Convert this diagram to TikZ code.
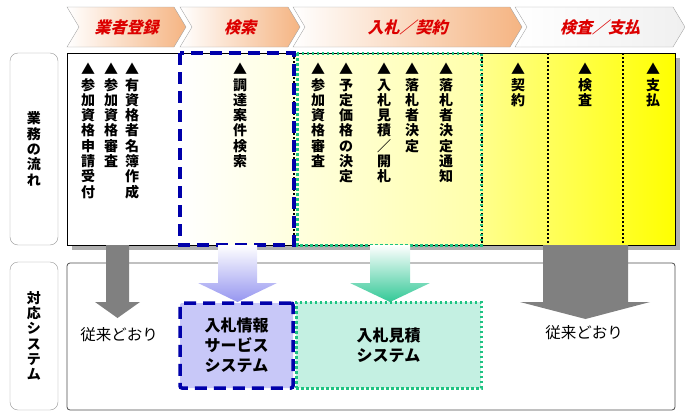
\documentclass[tikz,border=0pt]{standalone}
\usepackage{fontspec}
\setmainfont{Noto Sans CJK JP}
\newfontfamily\jpslant{Noto Sans CJK JP}[FakeSlant=0.25]

\definecolor{peach}{RGB}{245,180,130}
\definecolor{chevline}{RGB}{165,165,165}
\definecolor{phasered}{RGB}{220,0,0}
\definecolor{paleyellow}{RGB}{255,255,170}
\definecolor{midyellow}{RGB}{255,255,140}
\definecolor{dashblue}{RGB}{0,0,170}
\definecolor{dotteal}{RGB}{30,195,130}
\definecolor{lavender}{RGB}{200,200,248}
\definecolor{mint}{RGB}{196,240,226}
\definecolor{arrowgray}{RGB}{128,128,128}
\definecolor{shadowgray}{RGB}{175,175,175}
\definecolor{bluearrow}{RGB}{150,150,240}
\definecolor{tealarrow}{RGB}{50,200,150}
\definecolor{labelline}{RGB}{150,150,150}

% vertical (top to bottom) text, one character per line
\newcommand\tate[1]{\vbox{\baselineskip=15.3pt\lineskiplimit=-20pt\expandafter\tateloop#1\relax}}
\def\tateloop#1{\ifx\relax#1\else\hbox to 1em{\hss#1\hss}\expandafter\tateloop\fi}

\begin{document}
\begin{tikzpicture}[x=1pt, y=-1pt,
    phase/.style={font=\jpslant\bfseries\fontsize{16}{16}\selectfont, text=phasered},
    task/.style={anchor=north, inner sep=0pt, font=\bfseries\fontsize{14}{15}\selectfont},
    sidelabel/.style={draw=labelline, fill=white, rounded corners=8pt, minimum width=48pt,
        inner sep=0pt, font=\bfseries\fontsize{14}{15}\selectfont},
    sysbox/.style={align=center, inner sep=0pt, font=\bfseries\fontsize{16}{20}\selectfont},
    asis/.style={font=\fontsize{15.5}{16}\selectfont}]
    \useasboundingbox (0,0) rectangle (685,415);

    % phases
    \foreach \l/\r/\txt/\col [count=\i] in {67/174/業者登録/peach, 180/288/検索/peach,
            293/510/入札／契約/peach, 515/673/検査／支払/gray!12}{
        \path[draw=chevline, left color=white, right color=\col]
            (\l,7) -- (\r,7) -- (\r+12,27) -- (\r,47) -- (\l,47) -- (\l+12,27) -- cycle;
        \node[phase] (phase\i) at ({(\l+\r+12)/2},27) {\txt};
    }

    \node[sidelabel, minimum height=192pt] (flowlabel) at (34,149) {\tate{業務の流れ}};
    \node[sidelabel, minimum height=148pt] (syslabel) at (34,336) {\tate{対応システム}};

    % business flow
    \fill[shadowgray] (72,58) rectangle (680,250);
    \fill[white] (67,53) rectangle (180,245);
    \shade[left color=white, right color=paleyellow] (180,53) rectangle (482,245);
    \shade[left color=midyellow, right color=yellow] (482,53) rectangle (675,245);
    \draw[black, line width=0.8pt] (67,53) rectangle (675,245);
    \foreach \x in {294,482,548,623}
        \draw[black, line width=1.8pt, dash pattern=on 2pt off 2pt] (\x,53) -- (\x,245);
    \draw[dashblue, line width=3.5pt, dash pattern=on 12pt off 7pt] (180,53) rectangle (294,245);
    \draw[dotteal, line width=3pt, dash pattern=on 2.5pt off 2.5pt] (297,53) rectangle (481,245);

    \foreach \x/\txt [count=\i] in {88/▲参加資格申請受付, 111/▲参加資格審査, 132/▲有資格者名簿作成,
            240/▲調達案件検索, 318/▲参加資格審査, 346/▲予定価格の決定, 384/▲入札見積／開札,
            412/▲落札者決定, 446/▲落札者決定通知, 518/▲契約, 585/▲検査, 653/▲支払}
        \node[task] (task\i) at (\x,63) {\tate{\txt}};

    % systems
    \node[draw=gray!60!black, line width=0.8pt, rounded corners=3pt, minimum width=608pt,
        minimum height=147pt] (sysarea) at (371,336.5) {};

    \fill[arrowgray] (106,245) -- (129,245) -- (129,302) -- (140,302) -- (117.5,318)
        -- (95,302) -- (106,302) -- cycle;
    \shade[top color=white, bottom color=bluearrow] (218,245) -- (257,245) -- (257,283)
        -- (277,283) -- (237.5,302) -- (198,283) -- (218,283) -- cycle;
    \shade[top color=white, bottom color=tealarrow] (370,245) -- (410,245) -- (410,283)
        -- (430,283) -- (390,302) -- (350,283) -- (370,283) -- cycle;
    \fill[arrowgray] (543,245) -- (628,245) -- (628,302) -- (650,302) -- (585.5,319)
        -- (520,302) -- (543,302) -- cycle;

    \node[sysbox, draw=dashblue, fill=lavender, line width=3.5pt, dash pattern=on 12pt off 7pt,
        rounded corners=2pt, minimum width=113pt, minimum height=85pt] (infosvc)
        at (236.5,345.5) {入札情報\\サービス\\システム};
    \node[sysbox, draw=dotteal, fill=mint, line width=3pt, dash pattern=on 2.5pt off 2.5pt,
        minimum width=185pt, minimum height=86pt] (bidsys) at (388.5,345) {入札見積\\システム};

    \node[asis] (asis1) at (119,335) {従来どおり};
    \node[asis] (asis2) at (584,333) {従来どおり};
\end{tikzpicture}
\end{document}
